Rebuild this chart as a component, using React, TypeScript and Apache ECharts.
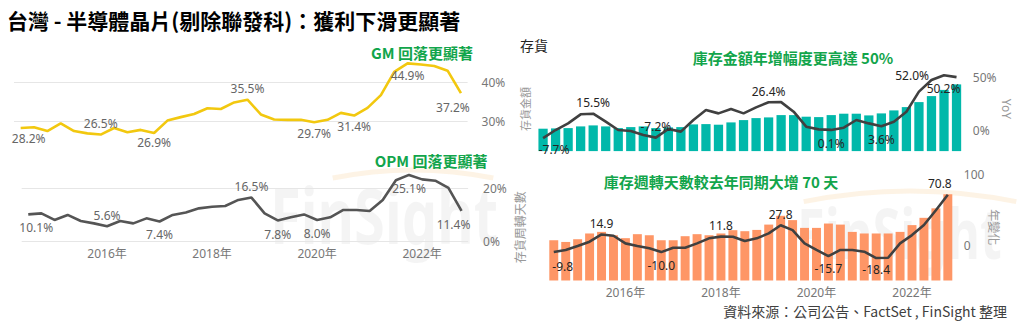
import React, { useEffect, useRef } from "react";
import * as echarts from "echarts";

// ---------- data ----------
const quarters = [
  "2014Q3", "2014Q4",
  "2015Q1", "2015Q2", "2015Q3", "2015Q4",
  "2016Q1", "2016Q2", "2016Q3", "2016Q4",
  "2017Q1", "2017Q2", "2017Q3", "2017Q4",
  "2018Q1", "2018Q2", "2018Q3", "2018Q4",
  "2019Q1", "2019Q2", "2019Q3", "2019Q4",
  "2020Q1", "2020Q2", "2020Q3", "2020Q4",
  "2021Q1", "2021Q2", "2021Q3", "2021Q4",
  "2022Q1", "2022Q2", "2022Q3", "2022Q4",
];
const yearTickIdx = [6, 14, 22, 30];

// gross margin (%)
const gmMargin = [
  28.2, 28.4, 27.4, 29.4, 27.4, 26.8, 26.5, 28.2, 27.1, 27.7, 26.9, 30.1,
  31.0, 31.8, 33.3, 33.1, 34.8, 35.5, 31.7, 30.4, 30.3, 30.3, 29.7, 30.3,
  32.1, 31.4, 33.4, 36.7, 42.7, 44.9, 44.6, 44.2, 43.0, 37.2,
];
// operating margin (%)
const opMargin = [
  10.1, 10.5, 8.0, 9.9, 7.6, 6.7, 5.6, 7.6, 6.7, 8.6, 7.4, 9.9,
  10.8, 12.4, 13.0, 13.3, 15.6, 16.5, 10.5, 7.8, 9.0, 10.1, 8.0, 9.0,
  11.8, 11.8, 11.4, 15.6, 23.1, 25.1, 23.4, 22.9, 20.2, 11.4,
];
// inventory amount (index units)
const invAmount = [
  224, 227, 230, 247, 257, 247, 230, 240, 247, 230, 237, 240,
  267, 270, 264, 287, 310, 330, 337, 360, 360, 344, 340, 360,
  374, 374, 357, 377, 407, 440, 490, 550, 612, 667,
];
// inventory YoY (%)
const invYoY = [
  -7.7, 0.0, 6.3, 14.9, 15.5, 7.9, 0.0, -1.0, -4.7, -7.2, 1.0, -1.5,
  9.5, 19.0, 15.8, 20.0, 15.8, 21.5, 26.4, 26.5, 17.4, 3.2, 0.6, 0.1,
  2.2, 9.5, 6.3, 3.6, 7.9, 17.4, 36.4, 47.4, 52.0, 50.2,
];
// inventory days
const invDays = [
  75.6, 72.4, 77.5, 88.3, 91.3, 85.0, 79.5, 87.0, 85.0, 75.6, 75.6, 83.2,
  87.0, 85.0, 88.3, 94.5, 92.6, 95.0, 105.0, 121.5, 113.4, 98.8, 98.8, 107.0,
  105.0, 91.3, 88.3, 88.3, 88.3, 91.3, 104.0, 117.7, 135.5, 162.0,
];
// inventory days YoY change (days)
const invDaysChg = [
  -9.8, -7.0, -1.4, 4.7, 14.9, 13.0, 2.3, -1.4, -4.7, -10.0, -3.8, -3.8,
  2.3, 9.4, 11.8, 11.7, 5.6, 9.4, 16.4, 27.8, 21.0, 2.3, -7.0, -15.7,
  -7.0, -7.0, -9.4, -18.4, -18.0, 2.3, 14.0, 28.2, 49.0, 70.8,
];

// labelled points: index -> [position, offset]
type Lbl = Record<number, [string, number[]]>;
const gmLabels: Lbl = {
  0: ["bottom", [8, 0]], 6: ["top", [0, 0]], 10: ["bottom", [0, -2]],
  17: ["top", [0, 0]], 22: ["bottom", [0, 0]], 25: ["bottom", [0, 0]],
  29: ["bottom", [0, 1]], 33: ["bottom", [-8, 3]],
};
const opLabels: Lbl = {
  0: ["bottom", [8, 2]], 6: ["top", [0, 0]], 10: ["bottom", [0, 2]],
  17: ["top", [0, 0]], 19: ["bottom", [0, 3]], 22: ["bottom", [0, 3]],
  29: ["bottom", [0, 3]], 33: ["bottom", [-8, 2]],
};
const yoyLabels: Lbl = {
  0: ["bottom", [11, 0]], 4: ["top", [0, 0]], 9: ["top", [0, 0]],
  18: ["top", [0, 0]], 23: ["bottom", [0, 3]], 27: ["bottom", [0, 2]],
  32: ["left", [-10, 0]], 33: ["bottom", [-13, 0]],
};
const chgLabels: Lbl = {
  0: ["bottom", [9, 4]], 4: ["top", [0, 0]], 9: ["bottom", [0, 2]],
  14: ["top", [0, 0]], 19: ["top", [0, 0]], 23: ["bottom", [0, 1]],
  27: ["bottom", [0, 0]], 33: ["top", [-8, 0]],
};

const FONT = "'Segoe UI', 'Noto Sans', 'Noto Sans CJK TC', sans-serif";
const CJK = "'Noto Sans CJK TC', 'Noto Sans', sans-serif";

function withLabels(values: number[], lbl: Lbl, color: string, suffix: string) {
  return values.map((v, i) => {
    const l = lbl[i];
    if (!l) return { value: v };
    return {
      value: v,
      label: {
        show: true,
        position: l[0],
        offset: l[1],
        color,
        fontSize: 12,
        fontFamily: FONT,
        formatter: () => v.toFixed(1) + suffix,
      },
    };
  });
}

export default function App() {
  const ref = useRef<HTMLDivElement>(null);
  useEffect(() => {
    if (!ref.current) return;
    const chart = echarts.init(ref.current, undefined, { renderer: "svg" });
    const green = "#12A54B";
    const axisGray = "#777";
    const hiddenY = {
      axisLabel: { show: false },
      axisLine: { show: false },
      axisTick: { show: false },
      splitLine: { show: false },
    };
    const yearAxis = (gridIndex: number, show: boolean) => ({
      type: "category",
      gridIndex,
      data: quarters,
      boundaryGap: true,
      axisLine: { show: false },
      axisTick: { show: false },
      axisLabel: {
        show,
        interval: (idx: number) => yearTickIdx.includes(idx),
        formatter: (v: string) => v.slice(0, 4) + "年",
        color: axisGray,
        fontSize: 12,
        fontFamily: FONT,
        margin: 6,
      },
    });
    const lineCommon = {
      symbol: "circle",
      symbolSize: 0.01,
      showSymbol: true,
      label: { show: false },
      emphasis: { disabled: true },
    };

    chart.setOption({
      animation: false,
      textStyle: { fontFamily: FONT },
      grid: [
        { left: 14, top: 43.6, width: 453.6, height: 116.1 },
        { left: 21.7, top: 162, width: 446.4, height: 79 },
        { left: 536.8, top: 66.8, width: 426, height: 84.3 },
        { left: 547.8, top: 174, width: 406, height: 106.5 },
      ],
      xAxis: [
        yearAxis(0, false),
        yearAxis(1, true),
        yearAxis(2, false),
        yearAxis(3, true),
      ],
      yAxis: [
        {
          type: "value", gridIndex: 0, position: "right",
          min: 20, max: 50, interval: 10,
          axisLine: { show: false }, axisTick: { show: false },
          splitLine: { lineStyle: { color: ["transparent", "#E6E6E6", "#E6E6E6", "transparent"], width: 1 } },
          axisLabel: {
            formatter: (v: number) => (v === 30 || v === 40 ? v + "%" : ""),
            color: axisGray, fontSize: 12, margin: 14, fontFamily: FONT,
          },
        },
        {
          type: "value", gridIndex: 1, position: "right",
          min: 0, max: 30, interval: 10,
          axisLine: { show: false }, axisTick: { show: false },
          splitLine: { lineStyle: { color: ["#E6E6E6", "transparent", "#E6E6E6", "transparent"], width: 1 } },
          axisLabel: {
            formatter: (v: number) => (v === 0 || v === 20 ? v + "%" : ""),
            color: axisGray, fontSize: 12, margin: 15, fontFamily: FONT,
          },
        },
        {
          type: "value", gridIndex: 2, position: "left", min: 0, max: 843,
          name: "存貨金額", nameLocation: "middle", nameRotate: 90, nameGap: 6,
          nameTextStyle: { color: "#999", fontSize: 11, fontFamily: CJK },
          ...hiddenY,
        },
        {
          type: "value", gridIndex: 2, position: "right",
          min: -20, max: 60, interval: 10,
          name: "YoY", nameLocation: "middle", nameRotate: -90, nameGap: 36,
          nameTextStyle: { color: "#999", fontSize: 12, fontFamily: FONT },
          axisLine: { show: false }, axisTick: { show: false }, splitLine: { show: false },
          axisLabel: {
            formatter: (v: number) => (v === 0 || v === 50 ? v + "%" : ""),
            color: axisGray, fontSize: 12, margin: 10, fontFamily: FONT,
          },
        },
        {
          type: "value", gridIndex: 3, position: "left", min: 0, max: 200,
          name: "存貨周轉天數", nameLocation: "middle", nameRotate: 90, nameGap: 22,
          nameTextStyle: { color: "#999", fontSize: 12, fontFamily: CJK },
          ...hiddenY,
        },
        {
          type: "value", gridIndex: 3, position: "right",
          min: -50, max: 100, interval: 50,
          name: "年變化", nameLocation: "middle", nameRotate: -90, nameGap: 33,
          nameTextStyle: { color: "#999", fontSize: 12, fontFamily: CJK },
          axisLine: { show: false }, axisTick: { show: false }, splitLine: { show: false },
          axisLabel: {
            formatter: (v: number) => (v === 0 || v === 100 ? String(v) : ""),
            color: axisGray, fontSize: 12, margin: 10, fontFamily: FONT,
          },
        },
      ],
      graphic: [
        {
          type: "text", x: 270, y: 214, scaleX: 0.72, z: -10,
          style: { text: "FinSight", fontSize: 78, fontWeight: "bold", fontFamily: FONT, fill: "rgba(0,0,0,0.045)", verticalAlign: "middle" },
        },
        {
          type: "arc", z: -10,
          shape: { cx: 413, cy: 574, r: 404, startAngle: -Math.PI / 2 - 0.2, endAngle: -Math.PI / 2 + 0.2, clockwise: true },
          style: { stroke: "rgba(245,190,110,0.18)", lineWidth: 5, fill: "none" },
        },
        {
          type: "text", x: 797, y: 232, scaleX: 0.72, z: -10,
          style: { text: "FinSight", fontSize: 70, fontWeight: "bold", fontFamily: FONT, fill: "rgba(0,0,0,0.045)", verticalAlign: "middle" },
        },
        {
          type: "arc", z: -10,
          shape: { cx: 910, cy: 726, r: 535, startAngle: -Math.PI / 2 - 0.2, endAngle: -Math.PI / 2 + 0.2, clockwise: true },
          style: { stroke: "rgba(245,190,110,0.18)", lineWidth: 5, fill: "none" },
        },
        {
          type: "text", x: 7, y: 20,
          style: { text: "台灣 - 半導體晶片(剔除聯發科)：獲利下滑更顯著", fontSize: 21, fontWeight: "bold", fontFamily: CJK, fill: "#000", verticalAlign: "middle" },
        },
        {
          type: "text", x: 520, y: 45,
          style: { text: "存貨", fontSize: 14, fontFamily: CJK, fill: "#252423", verticalAlign: "middle" },
        },
        {
          type: "text", x: 422, y: 52,
          style: { text: "GM 回落更顯著", fontSize: 15, fontWeight: "bold", fontFamily: CJK, fill: green, align: "center", verticalAlign: "middle" },
        },
        {
          type: "text", x: 431, y: 160,
          style: { text: "OPM 回落更顯著", fontSize: 15, fontWeight: "bold", fontFamily: CJK, fill: green, align: "center", verticalAlign: "middle" },
        },
        {
          type: "text", x: 793, y: 57,
          style: { text: "庫存金額年增幅度更高達 50%", fontSize: 15, fontWeight: "bold", fontFamily: CJK, fill: green, align: "center", verticalAlign: "middle" },
        },
        {
          type: "text", x: 721, y: 181,
          style: { text: "庫存週轉天數較去年同期大增 70 天", fontSize: 15, fontWeight: "bold", fontFamily: CJK, fill: green, align: "center", verticalAlign: "middle" },
        },
        {
          type: "text", x: 1007, y: 311,
          style: { text: "資料來源：公司公告、FactSet , FinSight 整理", fontSize: 14, fontFamily: CJK, fill: "#404040", align: "right", verticalAlign: "middle" },
        },
      ],
      series: [
        {
          type: "line", xAxisIndex: 0, yAxisIndex: 0, z: 3, ...lineCommon,
          data: withLabels(gmMargin, gmLabels, "#666", "%"),
          lineStyle: { color: "#F2C80F", width: 2.6 },
          itemStyle: { color: "#F2C80F" },
        },
        {
          type: "line", xAxisIndex: 1, yAxisIndex: 1, z: 3, ...lineCommon,
          data: withLabels(opMargin, opLabels, "#666", "%"),
          lineStyle: { color: "#555", width: 2.6 },
          itemStyle: { color: "#555" },
        },
        {
          type: "bar", xAxisIndex: 2, yAxisIndex: 2, z: 2,
          data: invAmount, barCategoryGap: "26%",
          itemStyle: { color: "#01B8AA" },
          emphasis: { disabled: true },
        },
        {
          type: "line", xAxisIndex: 2, yAxisIndex: 3, z: 4, ...lineCommon,
          data: withLabels(invYoY, yoyLabels, "#252423", "%"),
          lineStyle: { color: "#404040", width: 2.6 },
          itemStyle: { color: "#404040" },
        },
        {
          type: "bar", xAxisIndex: 3, yAxisIndex: 4, z: 2,
          data: invDays, barCategoryGap: "25%",
          itemStyle: { color: "#FE9666" },
          emphasis: { disabled: true },
        },
        {
          type: "line", xAxisIndex: 3, yAxisIndex: 5, z: 4, ...lineCommon,
          data: withLabels(invDaysChg, chgLabels, "#252423", ""),
          lineStyle: { color: "#404040", width: 2.6 },
          itemStyle: { color: "#404040" },
        },
      ],
    });
    return () => chart.dispose();
  }, []);

  return (
    <div
      ref={ref}
      style={{ position: "fixed", left: 0, top: 0, width: 1019, height: 322, background: "#fff" }}
    />
  );
}
